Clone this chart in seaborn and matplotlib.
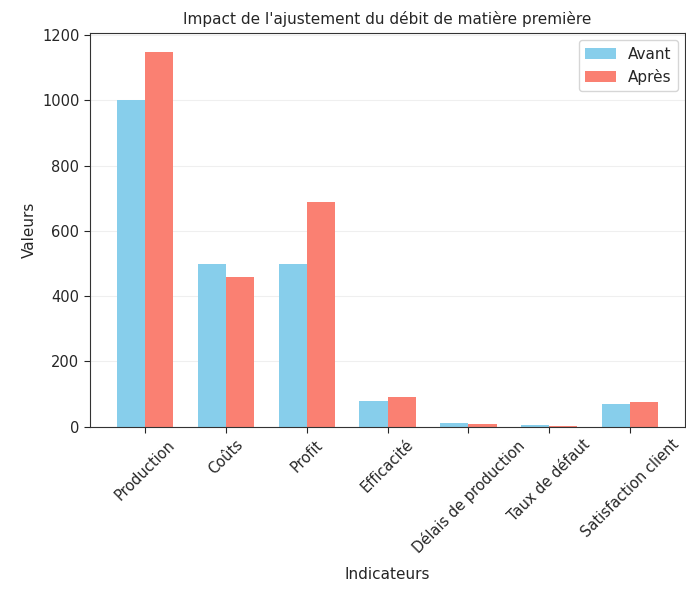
import pandas as pd
import seaborn as sns
import matplotlib.pyplot as plt

#-- Data. --#
indicateurs = ["Production", "Coûts", "Profit", "Efficacité",
               "Délais de production", "Taux de défaut", "Satisfaction client"]
avant = [1000, 500, 500, 80, 10, 5, 70]
apres = [1150, 460, 690, 92, 8, 3, 75]

df = pd.DataFrame({
    "Indicateurs": indicateurs * 2,
    "Valeurs": avant + apres,
    "Période": ["Avant"] * len(avant) + ["Après"] * len(apres),
})

sns.set_style("white")
plt.rcParams['font.family'] = ['DejaVu Sans']

fig, ax = plt.subplots(figsize=(6.86, 5.96), dpi=100)
sns.barplot(data=df, x="Indicateurs", y="Valeurs", hue="Période",
            palette={"Avant": "#87CEEB", "Après": "#FA8072"},
            width=0.7, saturation=1, linewidth=0, ax=ax)

ax.set_title("Impact de l'ajustement du débit de matière première", fontsize=11)
ax.set_xlabel("Indicateurs", fontsize=11, labelpad=8)
ax.set_ylabel("Valeurs", fontsize=11)
ax.set_xlim(-0.685, len(indicateurs) - 1 + 0.685)
ax.tick_params(axis='x', rotation=45, labelsize=10.5)
ax.tick_params(axis='y', labelsize=10.5)
ax.tick_params(axis='both', which='major', length=4, left=True, bottom=True)
ax.yaxis.grid(True, alpha=0.3)
ax.set_axisbelow(True)
for s in ax.spines.values():
    s.set_color("#333333")
    s.set_linewidth(0.8)
ax.legend(title=None, loc="upper right", fontsize=11)

plt.subplots_adjust(left=0.131, right=0.999, top=0.945, bottom=0.284)
plt.savefig("out.png", dpi=100)
